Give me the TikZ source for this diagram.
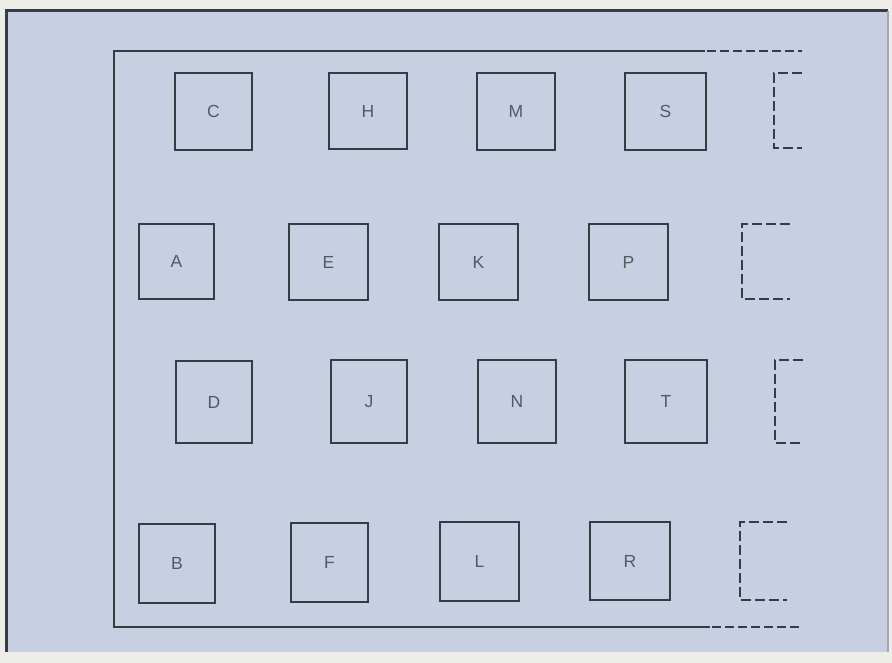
\documentclass[tikz,border=0pt]{standalone}
\usepackage{fontspec}
\setmainfont{Liberation Sans}
\definecolor{paper}{RGB}{238,238,232}
\definecolor{bgblue}{RGB}{199,207,227}
\definecolor{ink}{RGB}{55,60,68}
\definecolor{txt}{RGB}{85,90,98}
\begin{document}
\begin{tikzpicture}[x=1pt,y=-1pt,
  cell/.style={draw=ink, line width=2.8pt, inner sep=0pt, font=\fontsize{17.5}{17.5}\selectfont, text=txt},
  frame/.style={draw=ink, line width=2pt},
  dashframe/.style={draw=ink, line width=2.4pt, dash pattern=on 9pt off 4pt},
  dashcell/.style={draw=ink, line width=2.8pt, dash pattern=on 10pt off 4pt}]
\useasboundingbox (0,0) rectangle (892,663);
\fill[paper] (0,0) rectangle (892,663);
\fill[bgblue] (6,11) rectangle (888,652);
\draw[ink, line width=3pt] (6,652) -- (6,11) -- (888,11);
\draw[gray!70, line width=1.2pt] (888,11) -- (888,652);
% inner frame
\coordinate (ft) at (802,51);
\coordinate (fb) at (802,627);
\draw[frame] (705,51) -- (114,51) -- (114,627) -- (710,627);
\draw[dashframe] (707,51) -- (ft);
\draw[dashframe] (712,627) -- (fb);
% cells
\foreach \n/\xa/\ya/\xb/\yb in {
  C/175/73/252/150, H/329/73/407/149, M/477/73/555/150, S/625/73/706/150,
  A/139/224/214/299, E/289/224/368/300, K/439/224/518/300, P/589/224/668/300,
  D/176/361/252/443, J/331/360/407/443, N/478/360/556/443, T/625/360/707/443,
  B/139/524/215/603, F/291/523/368/602, L/440/522/519/601, R/590/522/670/600}{
  \node[cell, minimum width={(\xb-\xa)*1pt}, minimum height={(\yb-\ya)*1pt}]
    (\n) at ({(\xa+\xb)/2},{(\ya+\yb)/2}) {\n};
}
% partial dashed cells at the right
\draw[dashcell] (802,73) -- (774,73) -- (774,148) -- (802,148);
\draw[dashcell] (790,224) -- (742,224) -- (742,299) -- (790,299);
\draw[dashcell] (803,360) -- (775,360) -- (775,443) -- (803,443);
\draw[dashcell] (787,522) -- (740,522) -- (740,600) -- (787,600);
\end{tikzpicture}
\end{document}
